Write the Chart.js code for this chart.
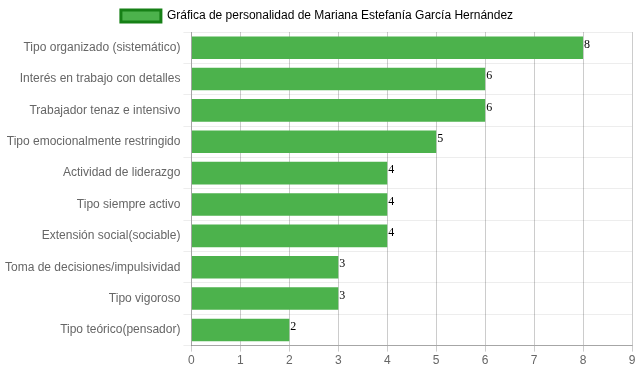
<!DOCTYPE html>
<html>
<head>
<meta charset="utf-8">
<script src="https://cdn.jsdelivr.net/npm/chart.js@4/dist/chart.umd.min.js"></script>
<style>
  html, body { margin: 0; padding: 0; background: #fff; }
  #wrap { width: 639px; height: 372px; }
</style>
</head>
<body>
<div id="wrap"><canvas id="Chart"></canvas></div>
<script>
const title = "Gráfica de personalidad de Mariana Estefanía García Hernández";
const categories = [
    "Tipo organizado (sistemático)",
    "Interés en trabajo con detalles",
    "Trabajador tenaz e intensivo",
    "Tipo emocionalmente restringido",
    "Actividad de liderazgo",
    "Tipo siempre activo",
    "Extensión social(sociable)",
    "Toma de decisiones/impulsividad",
    "Tipo vigoroso",
    "Tipo teórico(pensador)"
];
const scores = [8, 6, 6, 5, 4, 4, 4, 3, 3, 2];
const xMin = 0;
const xMax = 9;

Chart.defaults.font.family = "'Liberation Sans', Arial, Helvetica, sans-serif";
Chart.defaults.font.size = 12;
Chart.defaults.color = "#666";

// writes the score right after the end of each bar
const valueLabels = {
    id: "valueLabels",
    afterDatasetsDraw(chart) {
        const ctx = chart.ctx;
        const meta = chart.getDatasetMeta(0);
        ctx.save();
        ctx.font = "12px 'Liberation Serif', 'Times New Roman', serif";
        ctx.fillStyle = "#000";
        ctx.textAlign = "left";
        ctx.textBaseline = "middle";
        meta.data.forEach((bar, i) => {
            ctx.fillText(scores[i], bar.x + 1, bar.y - 3);
        });
        ctx.restore();
    }
};

new Chart(document.getElementById("Chart"), {
    type: "bar",
    data: {
        labels: categories,
        datasets: [{
            label: title,
            data: scores,
            backgroundColor: "rgb(76,178,76)",
            borderWidth: 0
        }]
    },
    options: {
        indexAxis: "y",
        responsive: true,
        maintainAspectRatio: false,
        animation: false,
        layout: { padding: { left: 2, right: 7, top: 0, bottom: 2 } },
        plugins: {
            legend: {
                position: "top",
                labels: {
                    boxWidth: 40,
                    boxHeight: 12,
                    padding: 10,
                    generateLabels: () => [{
                        text: title,
                        fillStyle: "rgb(76,178,76)",
                        strokeStyle: "rgb(22,128,22)",
                        lineWidth: 3,
                        datasetIndex: 0
                    }]
                }
            },
            tooltip: { enabled: false }
        },
        scales: {
            x: {
                min: xMin,
                max: xMax,
                z: 1,
                ticks: { stepSize: 1, padding: 2 },
                grid: { color: "rgba(0,0,0,0.2)", tickLength: 6 },
                border: { color: "rgba(0,0,0,0.3)" }
            },
            y: {
                ticks: { padding: 3 },
                grid: { color: "rgba(0,0,0,0.07)", tickLength: 8, offset: true },
                border: { color: "rgba(0,0,0,0.2)" }
            }
        }
    },
    plugins: [valueLabels]
});
</script>
</body>
</html>
